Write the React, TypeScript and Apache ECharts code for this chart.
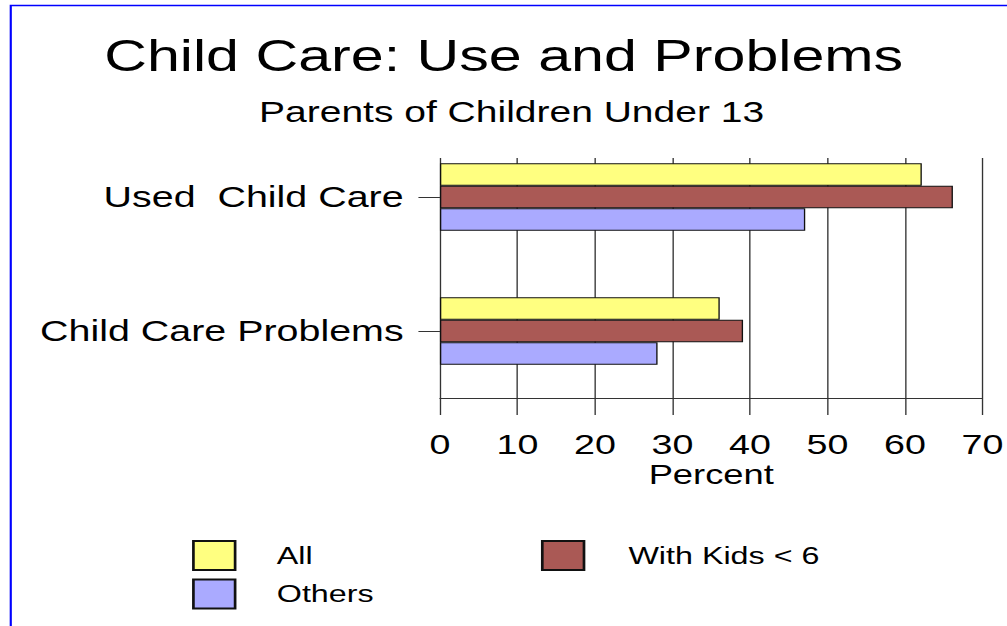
import React, { useEffect, useRef } from "react";
import * as echarts from "echarts";

const categories = ["Used  Child Care", "Child Care Problems"];
const seriesNames = ["All", "With Kids < 6", "Others"];
const allValues = [62, 36];
const kidsValues = [66, 39];
const othersValues = [47, 28];
const xMin = 0;
const xMax = 70;
const xStep = 10;

const STRETCH = 1.345;
const W = 749;
const H = 626;
const FONT = "'Liberation Sans', Arial, Helvetica, sans-serif";

export default function App() {
  const ref = useRef<HTMLDivElement>(null);
  useEffect(() => {
    if (!ref.current) return;
    const chart = echarts.init(ref.current, undefined, { renderer: "svg" });
    const lineColor = "#333";
    const barBase = {
      type: "bar" as const,
      xAxisIndex: 0,
      yAxisIndex: 0,
      barWidth: 22.5,
      barGap: "0%",
    };
    const option: any = {
      animation: false,
      backgroundColor: "#fff",
      textStyle: { fontFamily: FONT, color: "#000" },
      title: [
        {
          text: "Child Care: Use and Problems",
          left: "center",
          top: 33.5,
          padding: 0,
          textStyle: { fontSize: 44, fontWeight: "normal", color: "#000", fontFamily: FONT },
        },
        {
          text: "Parents of Children Under 13",
          left: 192.6,
          top: 97,
          padding: 0,
          textStyle: { fontSize: 29, fontWeight: "normal", color: "#000", fontFamily: FONT },
        },
      ],
      graphic: [
        {
          type: "rect",
          silent: true,
          shape: { x: 8, y: 5.5, width: 3000, height: 3000 },
          style: { fill: "none", stroke: "#0000ff", lineWidth: 1.6 },
        },
      ],
      legend: [
        {
          data: ["All", "Others"],
          orient: "vertical",
          left: 142.8,
          top: 540,
          padding: 0,
          icon: "rect",
          itemWidth: 31,
          itemHeight: 29,
          itemGap: 7.5,
          selectedMode: false,
          textStyle: { fontSize: 24, color: "#000", fontFamily: FONT, padding: [0, 0, 0, 26] },
        },
        {
          data: ["With Kids < 6"],
          orient: "vertical",
          left: 402.2,
          top: 540,
          padding: 0,
          icon: "rect",
          itemWidth: 31,
          itemHeight: 29,
          itemGap: 7.5,
          selectedMode: false,
          textStyle: { fontSize: 24, color: "#000", fontFamily: FONT, padding: [0, 0, 0, 28] },
        },
      ],
      grid: [
        { left: 327.1, right: 17.4, top: 130, bottom: 228, containLabel: false },
        { left: 327.1, right: 17.4, top: 158, bottom: 228, containLabel: false },
      ],
      xAxis: [
        {
          gridIndex: 0,
          type: "value",
          min: xMin,
          max: xMax,
          interval: xStep,
          show: false,
        },
        {
          gridIndex: 1,
          type: "value",
          min: xMin,
          max: xMax,
          interval: xStep,
          name: "Percent",
          nameLocation: "middle",
          nameGap: 63.5,
          nameTextStyle: { fontSize: 27, color: "#000", fontFamily: FONT },
          axisLine: { show: true, lineStyle: { color: lineColor, width: 1 } },
          axisTick: { show: true, length: 17, lineStyle: { color: lineColor, width: 1 } },
          axisLabel: { fontSize: 28, color: "#000", margin: 32, fontFamily: FONT },
          splitLine: { show: true, lineStyle: { color: lineColor, width: 1 } },
        },
      ],
      yAxis: [
        {
          gridIndex: 0,
          type: "category",
          data: categories,
          inverse: true,
          axisLine: { show: false },
          axisTick: {
            show: true,
            alignWithLabel: true,
            length: 16,
            lineStyle: { color: lineColor, width: 1 },
          },
          axisLabel: { fontSize: 29.3, color: "#000", margin: 27, fontFamily: FONT },
          splitLine: { show: false },
        },
        {
          gridIndex: 1,
          type: "value",
          show: false,
        },
      ],
      series: [
        {
          ...barBase,
          name: seriesNames[0],
          data: allValues,
          itemStyle: { color: "#ffff80", borderColor: "#111", borderWidth: 1 },
        },
        {
          ...barBase,
          name: seriesNames[1],
          data: kidsValues,
          itemStyle: { color: "#aa5955", borderColor: "#111", borderWidth: 1 },
        },
        {
          ...barBase,
          name: seriesNames[2],
          data: othersValues,
          itemStyle: { color: "#aaaaff", borderColor: "#111", borderWidth: 1 },
        },
      ],
    };
    chart.setOption(option);
    return () => chart.dispose();
  }, []);

  return (
    <div
      style={{
        position: "fixed",
        left: 0,
        top: 0,
        width: W,
        height: H,
        transform: `scaleX(${STRETCH})`,
        transformOrigin: "0 0",
        background: "#fff",
      }}
    >
      <div ref={ref} style={{ width: W, height: H }} />
    </div>
  );
}
